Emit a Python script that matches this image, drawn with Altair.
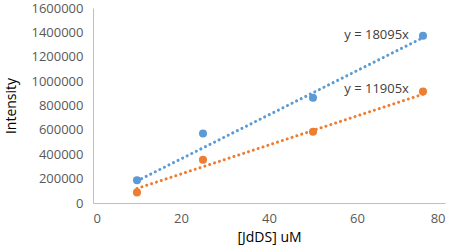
import altair as alt
import pandas as pd

conc = [10, 25, 50, 75]
blue_vals = [187000, 571000, 863000, 1373000]
orange_vals = [87000, 355000, 585000, 915000]
slopes = {"blue": 18095, "orange": 11905}
labels = ["y = 18095x", "y = 11905x"]
label_y = [1375000, 935000]

pts = pd.DataFrame({
    "x": conc * 2,
    "y": blue_vals + orange_vals,
    "s": ["blue"] * 4 + ["orange"] * 4,
})
trend = pd.DataFrame({
    "x": [10, 75, 10, 75],
    "y": [10 * slopes["blue"], 75 * slopes["blue"], 10 * slopes["orange"], 75 * slopes["orange"]],
    "s": ["blue", "blue", "orange", "orange"],
})
lab = pd.DataFrame({"x": [71.8, 71.8], "y": label_y, "t": labels})

color = alt.Scale(domain=["blue", "orange"], range=["#5B9BD5", "#ED7D31"])
font = "Open Sans"

xs = alt.X("x:Q", scale=alt.Scale(domain=[0, 80], nice=False),
           axis=alt.Axis(values=[0, 20, 40, 60, 80], title="[JdDS] uM", grid=False, ticks=False,
                         domainColor="#BFBFBF", labelColor="#595959", labelFontSize=13,
                         labelFont=font, titleFont=font, titleFontSize=14, titleFontWeight="normal",
                         titleColor="#000000", labelPadding=9, titlePadding=5))
ys = alt.Y("y:Q", scale=alt.Scale(domain=[0, 1600000], nice=False),
           axis=alt.Axis(values=list(range(0, 1600001, 200000)), title="Intensity", grid=False, ticks=False,
                         domainColor="#BFBFBF", labelColor="#595959", labelFontSize=13,
                         labelFont=font, titleFont=font, titleFontSize=14, titleFontWeight="normal",
                         titleColor="#000000", labelPadding=10, titlePadding=12, format="d"))

lines = alt.Chart(trend).mark_line(strokeDash=[0.1, 5], strokeWidth=3, strokeCap="round").encode(
    x=xs, y=ys, color=alt.Color("s:N", scale=color, legend=None), detail="s:N")
points = alt.Chart(pts).mark_circle(size=65, opacity=1).encode(
    x=xs, y=ys, color=alt.Color("s:N", scale=color, legend=None))
texts = alt.Chart(lab).mark_text(align="right", baseline="middle", font=font, fontSize=13,
                                  color="#404040").encode(x=xs, y=ys, text="t:N")

chart = (lines + points + texts).properties(
    width=352, height=195,
    autosize=alt.AutoSizeParams(type="none"),
    padding={"left": 93, "top": 8, "right": 9, "bottom": 46},
).configure_view(stroke=None)

chart.save("out.html", embed_options={"renderer": "svg", "actions": False})
